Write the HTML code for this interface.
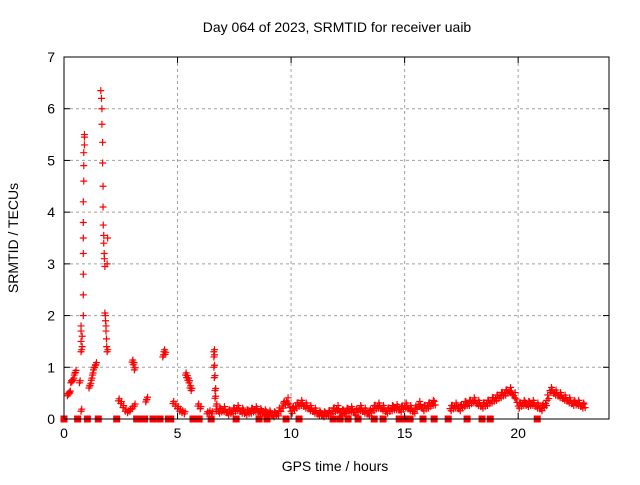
<!DOCTYPE html>
<html><head><meta charset="utf-8"><style>
body{margin:0;background:#fff;width:640px;height:480px;overflow:hidden}
text{font-family:"Liberation Sans",sans-serif;font-size:14px;fill:#000}
</style></head><body>
<svg id="chart" width="640" height="480" xmlns="http://www.w3.org/2000/svg">
<text x="337" y="32" text-anchor="middle">Day 064 of 2023, SRMTID for receiver uaib</text>
<text x="335" y="471" text-anchor="middle">GPS time / hours</text>
<text transform="translate(18,238) rotate(-90)" text-anchor="middle">SRMTID / TECUs</text>
<g id="grid"></g><g id="marks"></g><g id="axes"></g>
</svg>
<script>
const xTicks=[0,5,10,15,20];
const yTicks=[0,1,2,3,4,5,6,7];
const spikeHours=[0.15,0.2,0.25,0.3,0.35,0.4,0.45,0.5,0.75,0.75,0.75,0.75,0.8,0.8,0.75,0.85,0.85,0.85,0.85,0.85,0.85,0.85,0.87,0.87,0.87,0.9,0.9,0.9,0.68,1.1,1.15,1.2,1.25,1.3,1.35,1.4,1.62,1.65,1.67,1.67,1.7,1.7,1.72,1.72,1.73,1.75,1.75,1.77,1.78,1.8,1.8,1.82,1.83,1.85,1.85,1.87,1.88,1.9,1.9,1.92,2.4,2.5,2.6,2.7,2.8,2.9,3.0,3.1,3.0,3.05,3.1,3.6,3.65,4.35,4.4,4.45,4.8,4.9,5.0,5.1,5.2,5.3,5.35,5.4,5.45,5.5,5.55,5.6,5.9,6.0,6.3,6.4,6.5,6.6,6.6,6.6,6.62,6.65,6.65,6.7,6.7];
const spikeValues=[0.45,0.48,0.5,0.7,0.72,0.75,0.85,0.9,1.3,1.5,1.7,1.8,1.6,1.4,0.15,2.0,2.4,2.8,3.2,3.5,3.8,4.2,4.6,4.9,5.15,5.3,5.45,5.5,0.7,0.6,0.65,0.75,0.85,0.95,1.0,1.05,6.35,6.2,6.0,5.7,5.35,4.95,4.5,4.1,3.75,3.55,3.4,3.2,3.1,2.95,2.05,2.0,1.9,1.8,1.7,1.55,1.4,1.3,3.0,3.5,0.35,0.3,0.22,0.15,0.12,0.15,0.2,0.25,1.1,1.05,0.95,0.33,0.38,1.2,1.3,1.25,0.3,0.25,0.2,0.15,0.12,0.1,0.85,0.8,0.75,0.7,0.6,0.55,0.25,0.2,0.1,0.12,0.1,1.3,1.2,1.0,0.8,0.55,0.4,0.25,0.15];
const baseStart1=6.8;
const baseValues1=[0.15,0.18,0.12,0.15,0.2,0.15,0.12,0.15,0.18,0.14,0.12,0.1,0.08,0.1,0.25,0.35,0.15,0.25,0.3,0.25,0.2,0.15,0.1,0.08,0.1,0.15,0.2,0.12,0.15,0.18,0.12,0.2,0.15,0.1,0.2,0.25,0.2,0.15,0.2,0.22,0.18,0.25,0.2,0.15,0.28,0.2,0.25,0.3];
const baseStart2=17.0;
const baseValues2=[0.2,0.25,0.2,0.28,0.3,0.35,0.3,0.25,0.3,0.35,0.4,0.45,0.5,0.55,0.45,0.25,0.3,0.28,0.3,0.25,0.2,0.3,0.55,0.5,0.45,0.4,0.35,0.3,0.3,0.25];
const baseStep=0.2;
const zeroHours=[0,0.6,1.03,1.51,2.32,3.2,3.3,3.4,3.55,3.92,4.23,4.6,4.7,5.68,5.95,6.48,7.58,8.59,8.94,9.78,10.35,11.85,12.16,12.51,12.95,13.66,14.05,14.76,14.98,15.24,15.81,16.3,16.92,17.75,18.41,18.77,20.84];

const L=64,R=609,T=57,B=419,XMAX=24,YMAX=7;
const xs=h=>L+h/XMAX*(R-L), ys=v=>B-v/YMAX*(B-T);
const NS="http://www.w3.org/2000/svg";
const grid=document.getElementById('grid'),marks=document.getElementById('marks'),axes=document.getElementById('axes');
function mk(tag,parent,attrs){const e=document.createElementNS(NS,tag);for(const k in attrs)e.setAttribute(k,attrs[k]);parent.appendChild(e);return e;}
xTicks.forEach(t=>{const x=xs(t);
 if(t>0){const g=mk('line',grid,{x1:x,x2:x,y1:T,y2:B,stroke:'#a0a0a0','stroke-dasharray':'3,3'});
 
 }
 mk('line',axes,{x1:x,x2:x,y1:B,y2:B-6,stroke:'#000'});mk('line',axes,{x1:x,x2:x,y1:T,y2:T+6,stroke:'#000'});
 const tx=mk('text',axes,{x:x,y:B+19,'text-anchor':'middle'});tx.textContent=t;
 
 });
yTicks.forEach(t=>{const y=ys(t);
 if(t>0&&t<YMAX){const g=mk('line',grid,{x1:L,x2:R,y1:y,y2:y,stroke:'#a0a0a0','stroke-dasharray':'3,3'});
 
 }
 mk('line',axes,{x1:L,x2:L+6,y1:y,y2:y,stroke:'#000'});mk('line',axes,{x1:R,x2:R-6,y1:y,y2:y,stroke:'#000'});
 const tx=mk('text',axes,{x:L-9,y:y+5,'text-anchor':'end'});tx.textContent=t;
 
 });
const frame=mk('rect',axes,{x:L,y:T,width:R-L,height:B-T,fill:'none',stroke:'#000'});


function plus(h,v){const x=xs(h),y=ys(v);
 const p=mk('path',marks,{d:`M${x-3.5},${y}H${x+3.5}M${x},${y-3.5}V${y+3.5}`,stroke:'#f00','stroke-width':1.2});
 
 }
spikeHours.forEach((h,i)=>{plus(h,spikeValues[i]);if(spikeValues[i]<1.4)plus(h+0.03,spikeValues[i]+0.04);});
function baseline(vals,start){vals.forEach((v,i)=>{const h=start+i*baseStep;const nx=vals[i+1]??v;
 plus(h,v);plus(h+baseStep/2,(v+nx)/2+0.04);plus(h+baseStep/4,v-0.04);plus(h+baseStep*0.75,(v+nx)/2-0.03);plus(h+baseStep/3,v+0.06);});}
baseline(baseValues1,baseStart1);
baseline(baseValues2,baseStart2);
zeroHours.forEach(h=>{const r=mk('rect',marks,{x:xs(h)-3.5,y:ys(0)-3.5,width:7,height:7,fill:'#f00'});
 
 });
</script>
</body></html>
